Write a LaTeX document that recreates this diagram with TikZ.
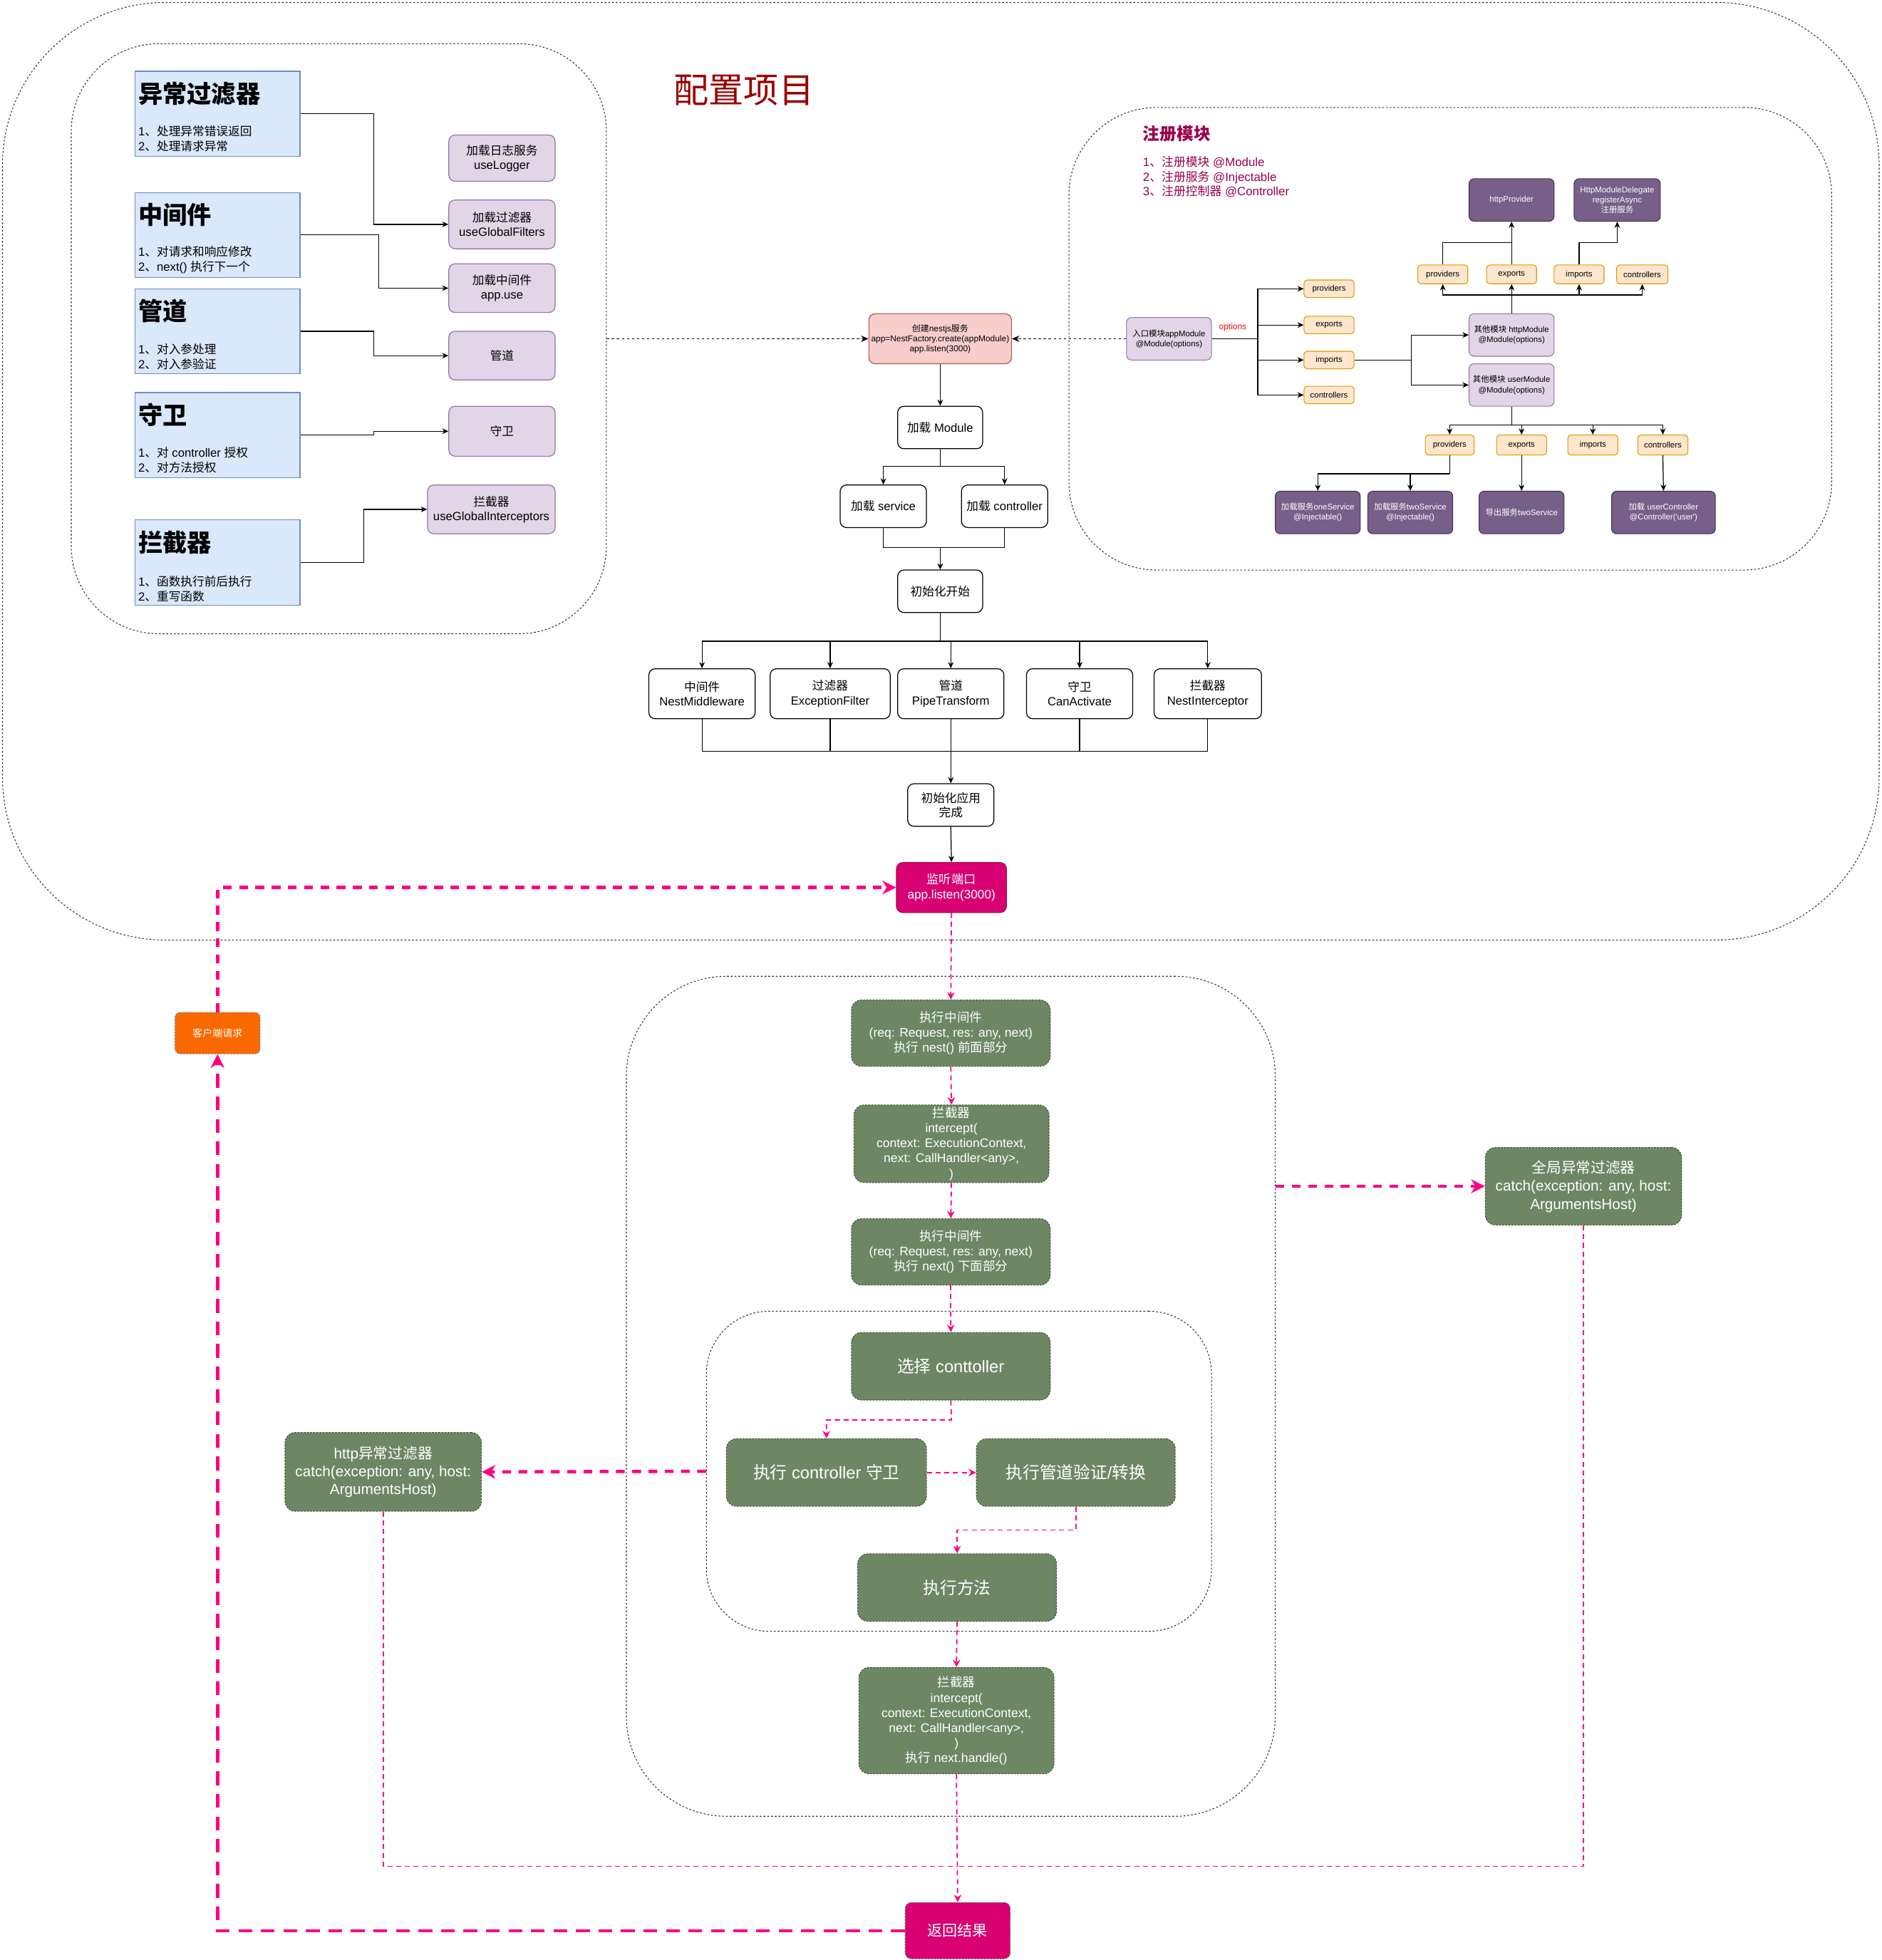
\documentclass[tikz,border=0pt]{standalone}
\usepackage{fontspec}
\setmainfont{Liberation Sans}
\newfontfamily\cjkfont{Noto Sans CJK SC}
\newfontfamily\latinfont{Liberation Sans}
\usetikzlibrary{arrows.meta}
\definecolor{blueF}{HTML}{DAE8FC}
\definecolor{blueD}{HTML}{6C8EBF}
\definecolor{purF}{HTML}{E1D5E7}
\definecolor{purD}{HTML}{9673A6}
\definecolor{redF}{HTML}{F8CECC}
\definecolor{redD}{HTML}{B85450}
\definecolor{orF}{HTML}{FFE6CC}
\definecolor{orD}{HTML}{D79B00}
\definecolor{dpF}{HTML}{76608A}
\definecolor{dpD}{HTML}{432D57}
\definecolor{grF}{HTML}{6D8764}
\definecolor{grD}{HTML}{3A5431}
\definecolor{magF}{HTML}{D80073}
\definecolor{magD}{HTML}{A50040}
\definecolor{pinkL}{HTML}{FF0080}
\definecolor{orangeF}{HTML}{FA6800}
\definecolor{titleRed}{HTML}{990000}
\definecolor{regCol}{HTML}{99004D}
\newXeTeXintercharclass\CJKcls
\makeatletter
\count@="3000
\loop\XeTeXcharclass\count@=\CJKcls\advance\count@ by 1\relax\ifnum\count@<"3040\repeat
\count@="4E00
\loop\XeTeXcharclass\count@=\CJKcls\advance\count@ by 1\relax\ifnum\count@<"A000\repeat
\count@="FF00
\loop\XeTeXcharclass\count@=\CJKcls\advance\count@ by 1\relax\ifnum\count@<"FFF0\repeat
\makeatother
\XeTeXinterchartoks 0 \CJKcls = {\cjkfont}
\XeTeXinterchartoks 4095 \CJKcls = {\cjkfont}
\XeTeXinterchartoks \CJKcls 0 = {\latinfont}
\XeTeXinterchartoks \CJKcls 4095 = {\latinfont}
\XeTeXinterchartokenstate=1
\newcommand\bx[7]{\node[#1, minimum width={(#5-#3)*1pt}, minimum height={(#6-#4)*1pt}] (#2) at ({(#3+#5)/2},{(#4+#6)/2}) {#7};}
\tikzset{
 conn/.style={draw=black, line width=0.7pt, -{Stealth[length=5pt,width=4.5pt]}},
 plain/.style={draw=black, line width=0.7pt},
 dotconn/.style={draw=black, line width=0.6pt, dash pattern=on 2pt off 2pt, -{Stealth[length=6pt,width=5pt]}},
 cont/.style={draw=black!80, line width=0.6pt, dash pattern=on 1.5pt off 1.5pt},
 bluebox/.style={draw=blueD, fill=blueF, line width=0.7pt},
 head/.style={anchor=west, inner sep=0pt, font=\fontsize{19.5}{22}\selectfont\bfseries},
 items/.style={anchor=west, inner sep=0pt, align=left, font=\fontsize{9.5}{12}\selectfont},
 purbox/.style={draw=purD, fill=purF, line width=0.7pt, rounded corners=5pt, align=center, inner sep=1pt, font=\fontsize{9.5}{11.5}\selectfont},
 purS/.style={draw=purD, fill=purF, line width=0.6pt, rounded corners=4pt, align=center, inner sep=1pt, font=\fontsize{6.5}{8}\selectfont},
 redbox/.style={draw=redD, fill=redF, line width=0.7pt, rounded corners=5pt, align=center, inner sep=1pt, font=\fontsize{6.8}{8}\selectfont},
 orbox/.style={draw=orD, fill=orF, line width=0.6pt, rounded corners=2.5pt, align=center, inner sep=0.5pt, font=\fontsize{6.5}{8}\selectfont},
 dpbox/.style={draw=dpD, fill=dpF, line width=0.6pt, rounded corners=4pt, align=center, inner sep=1pt, text=white, font=\fontsize{6.5}{8}\selectfont},
 wbox/.style={draw=black, fill=white, line width=0.7pt, rounded corners=5pt, align=center, inner sep=1pt, font=\fontsize{9.5}{11.5}\selectfont},
 grbox/.style={draw=grD, fill=grF, line width=0.6pt, dash pattern=on 1.5pt off 1pt, rounded corners=8pt, align=center, inner sep=1pt, text=white, font=\fontsize{10}{12}\selectfont},
 grbig/.style={grbox, font=\fontsize{13.5}{16}\selectfont},
 grfilter/.style={grbox, font=\fontsize{11.8}{14.5}\selectfont},
 magbox/.style={draw=magD, fill=magF, line width=0.6pt, rounded corners=5pt, align=center, inner sep=1pt, text=white, font=\fontsize{9.8}{12}\selectfont},
 retbox/.style={draw=black!60, fill=magF, line width=0.6pt, dash pattern=on 1.5pt off 1pt, rounded corners=5pt, align=center, inner sep=1pt, text=white, font=\fontsize{12}{14}\selectfont},
 clientbox/.style={draw=black!50, fill=orangeF, line width=0.6pt, dash pattern=on 1.5pt off 1pt, rounded corners=4pt, align=center, inner sep=1pt, text=white, font=\fontsize{8}{10}\selectfont},
 pk/.style={draw=pinkL, line width=1pt, dash pattern=on 4pt off 3pt, -{Stealth[length=6pt,width=6pt,inset=2pt]}},
 pkline/.style={draw=pinkL, line width=1pt, dash pattern=on 4pt off 3pt},
 pkthick/.style={draw=pinkL, line width=2.6pt, dash pattern=on 7pt off 6pt, -{Stealth[length=11pt,width=11pt,inset=3.5pt]}},
 pklong/.style={draw=pinkL, line width=2.6pt, dash pattern=on 11pt off 7pt, -{Stealth[length=11pt,width=11pt,inset=3.5pt]}},
}
\begin{document}
\begin{tikzpicture}[x=1pt,y=-1pt]
\useasboundingbox (0,0) rectangle (1505,1568);
% containers
\bx{cont, rounded corners=130pt}{outerC}{2}{2}{1503}{752}{}
\bx{cont, rounded corners=70pt}{leftC}{57}{35}{485}{507}{}
\bx{cont, rounded corners=70pt}{regC}{855}{86}{1465}{456}{}
\bx{cont, rounded corners=80pt}{lowC}{501}{781}{1020}{1453}{}
\bx{cont, rounded corners=50pt}{innC}{565}{1049}{969}{1305}{}
% title
\node[text=titleRed, font=\fontsize{28}{32}\selectfont] (title) at (595,72) {配置项目};
% left blue boxes
\bx{bluebox}{b1}{108}{57}{240}{125}{}
\node[head] (b1h) at (110.5,75) {异常过滤器};
\node[items] (b1i) at (110.5,111) {1、处理异常错误返回\\2、处理请求异常};
\bx{bluebox}{b2}{108}{154}{240}{222}{}
\node[head] (b2h) at (110.5,172) {中间件};
\node[items] (b2i) at (110.5,208) {1、对请求和响应修改\\2、next() 执行下一个};
\bx{bluebox}{b3}{108}{231}{240}{299}{}
\node[head] (b3h) at (110.5,249) {管道};
\node[items] (b3i) at (110.5,285.5) {1、对入参处理\\2、对入参验证};
\bx{bluebox}{b4}{108}{314}{240}{382}{}
\node[head] (b4h) at (110.5,332) {守卫};
\node[items] (b4i) at (110.5,368) {1、对 controller 授权\\2、对方法授权};
\bx{bluebox}{b5}{108}{416}{240}{484}{}
\node[head] (b5h) at (110.5,434) {拦截器};
\node[items] (b5i) at (110.5,471) {1、函数执行前后执行\\2、重写函数};
% purple boxes
\bx{purbox}{p1}{359}{108}{444}{145}{加载日志服务\\useLogger}
\bx{purbox}{p2}{359}{160}{444}{199}{加载过滤器\\useGlobalFilters}
\bx{purbox}{p3}{359}{211}{444}{250}{加载中间件\\app.use}
\bx{purbox}{p4}{359}{265}{444}{304}{管道}
\bx{purbox}{p5}{359}{325}{444}{365}{守卫}
\bx{purbox}{p6}{342}{388}{444}{427}{拦截器\\useGlobalInterceptors}
\coordinate (c1) at (299,91);
\coordinate (c2) at (303,188);
\coordinate (c3) at (299,265);
\coordinate (c4) at (299,348);
\coordinate (c5) at (291,450);
\draw[conn] (b1.east) -- (c1) |- (p2.west);
\draw[conn] (b2.east) -- (c2) |- (p3.west);
\draw[conn] (b3.east) -- (c3) |- (p4.west);
\draw[conn] (b4.east) -- (c4) |- (p5.west);
\draw[conn] (b5.east) -- (c5) |- (p6.west);
% middle column
\bx{redbox}{create}{695}{251}{809}{291}{创建nestjs服务\\app=NestFactory.create(appModule)\\app.listen(3000)}
\draw[dotconn] (leftC.east) -- (create.west);
\bx{wbox}{loadMod}{718}{325}{786}{359}{加载 Module}
\bx{wbox}{loadSvc}{672}{388}{741}{422}{加载 service}
\bx{wbox}{loadCtl}{769}{388}{838}{422}{加载 controller}
\bx{wbox}{initStart}{718}{456}{786}{490}{初始化开始}
\draw[conn] (create.south) -- (loadMod.north);
\coordinate (j1) at (752,373);
\draw[conn] (loadMod.south) -- (j1) -| (loadSvc.north);
\draw[conn] (j1) -| (loadCtl.north);
\coordinate (j2) at (752,438);
\draw[plain] (loadSvc.south) |- (j2);
\draw[plain] (loadCtl.south) |- (j2);
\draw[conn] (j2) -- (initStart.north);
\bx{wbox}{f1}{519}{535}{604}{575}{中间件\\NestMiddleware}
\bx{wbox}{f2}{616}{535}{712}{575}{过滤器\\ExceptionFilter}
\bx{wbox}{f3}{718}{535}{803}{575}{管道\\PipeTransform}
\bx{wbox}{f4}{821}{535}{906}{575}{守卫\\CanActivate}
\bx{wbox}{f5}{923}{535}{1009}{575}{拦截器\\NestInterceptor}
\coordinate (j3) at (752,513);
\draw[plain] (initStart.south) -- (j3);
\draw[conn] (j3) -| (f1.north);
\draw[conn] (j3) -| (f2.north);
\draw[conn] (j3) -| (f3.north);
\draw[conn] (j3) -| (f4.north);
\draw[conn] (j3) -| (f5.north);
\bx{wbox}{initDone}{726}{627}{795}{661}{初始化应用\\完成}
\coordinate (j4) at (760.5,601);
\draw[plain] (f1.south) |- (j4);
\draw[plain] (f2.south) |- (j4);
\draw[plain] (f4.south) |- (j4);
\draw[plain] (f5.south) |- (j4);
\draw[conn] (f3.south) -- (initDone.north);
\bx{magbox}{listen}{717}{690}{805}{730}{监听端口\\app.listen(3000)}
\draw[conn] (initDone.south) -- (listen.north);
% register module
\node[anchor=west, inner sep=0pt, text=regCol, font=\fontsize{13.5}{16}\selectfont\bfseries] (regT) at (914,107) {注册模块};
\node[anchor=north west, inner sep=0pt, align=left, text=regCol, font=\fontsize{9.6}{11.5}\selectfont] (regI) at (914,125) {1、注册模块 @Module\\2、注册服务 @Injectable\\3、注册控制器 @Controller};
\bx{purS}{entry}{901}{254}{969}{288}{入口模块appModule\\@Module(options)}
\draw[dotconn] (entry.west) -- (create.east);
\node[text=red, inner sep=0pt, font=\fontsize{6.8}{8}\selectfont] (opt) at (986,262) {options};
\bx{orbox}{o1}{1043}{224}{1083}{238}{providers}
\bx{orbox}{o2}{1043}{253}{1083}{267}{exports}
\bx{orbox}{o3}{1043}{281}{1083}{295}{imports}
\bx{orbox}{o4}{1043}{309}{1083}{323}{controllers}
\coordinate (rb) at (1006,271);
\draw[plain] (entry.east) -- (rb);
\draw[conn] (rb) |- (o1.west);
\draw[conn] (rb) |- (o2.west);
\draw[conn] (rb) |- (o3.west);
\draw[conn] (rb) |- (o4.west);
\bx{purS}{httpM}{1175}{251}{1243}{285}{其他模块 httpModule\\@Module(options)}
\bx{purS}{userM}{1175}{291}{1243}{325}{其他模块 userModule\\@Module(options)}
\coordinate (ib) at (1129,288);
\draw[plain] (o3.east) -- (ib);
\draw[conn] (ib) |- (httpM.west);
\draw[conn] (ib) |- (userM.west);
\bx{orbox}{t1}{1134}{212}{1174}{227}{providers}
\bx{orbox}{t2}{1189}{212}{1229}{227}{exports}
\bx{orbox}{t3}{1243}{212}{1283}{227}{imports}
\bx{orbox}{t4}{1293}{212}{1334}{227}{controllers}
\coordinate (tb) at (1209,236);
\draw[plain] (httpM.north) -- (tb);
\draw[conn] (tb) -| (t1.south);
\draw[conn] (tb) -- (t2.south);
\draw[conn] (tb) -| (t3.south);
\draw[conn] (tb) -| (t4.south);
\bx{dpbox}{hp}{1175}{143}{1243}{177}{httpProvider}
\bx{dpbox}{hd}{1259}{143}{1328}{177}{HttpModuleDelegate\\registerAsync\\注册服务}
\coordinate (hpj) at (1209,194);
\coordinate (hdj) at (1263,194);
\draw[plain] (t1.north) |- (hpj);
\draw[conn] (t2.north) -- (hp.south);
\draw[conn] (t3.north) -- (hdj) -| (hd.south);
\bx{orbox}{u1}{1140}{348}{1179}{364}{providers}
\bx{orbox}{u2}{1197}{348}{1237}{364}{exports}
\bx{orbox}{u3}{1254}{348}{1294}{364}{imports}
\bx{orbox}{u4}{1310}{348}{1350}{364}{controllers}
\coordinate (ub) at (1209,340);
\draw[plain] (userM.south) -- (ub);
\draw[conn] (ub) -| (u1.north);
\draw[conn] (ub) -| (u2.north);
\draw[conn] (ub) -| (u3.north);
\draw[conn] (ub) -| (u4.north);
\bx{dpbox}{d1}{1020}{393}{1088}{427}{加载服务oneService\\@Injectable()}
\bx{dpbox}{d2}{1094}{393}{1162}{427}{加载服务twoService\\@Injectable()}
\bx{dpbox}{d3}{1183}{393}{1251}{427}{导出服务twoService}
\bx{dpbox}{d4}{1289}{393}{1372}{427}{加载 userController\\@Controller(\textquotesingle user\textquotesingle)}
\coordinate (pj) at (1159.5,379);
\draw[plain] (u1.south) -- (pj);
\draw[conn] (pj) -| (d1.north);
\draw[conn] (pj) -| (d2.north);
\draw[conn] (u2.south) -- (d3.north);
\draw[conn] (u4.south) -- (d4.north);
% lower part
\bx{clientbox}{client}{140}{810}{208}{843}{客户端请求}
\bx{grbox}{mw1}{681}{800}{840}{853}{执行中间件\\(req: Request, res: any, next)\\执行 nest() 前面部分}
\bx{grbox}{ic1}{683}{884}{839}{946}{拦截器\\intercept(\\context: ExecutionContext,\\next: CallHandler<any>,\\)}
\bx{grbox}{mw2}{681}{975}{840}{1028}{执行中间件\\(req: Request, res: any, next)\\执行 next() 下面部分}
\bx{grbig}{sel}{681}{1066}{840}{1120}{选择 conttoller}
\bx{grbig}{guard}{581}{1151}{741}{1205}{执行 controller 守卫}
\bx{grbig}{pipe}{781}{1151}{940}{1205}{执行管道验证/转换}
\bx{grbig}{meth}{686}{1243}{845}{1297}{执行方法}
\bx{grbox}{ic2}{687}{1334}{843}{1419}{拦截器\\intercept(\\context: ExecutionContext,\\next: CallHandler<any>,\\)\\执行 next.handle()}
\bx{retbox}{ret}{724}{1522}{808}{1567}{返回结果}
\bx{grfilter}{hf}{228}{1146}{385}{1209}{http异常过滤器\\catch(exception: any, host:\\ArgumentsHost)}
\bx{grfilter}{gf}{1188}{918}{1345}{980}{全局异常过滤器\\catch(exception: any, host:\\ArgumentsHost)}
\draw[pk] (listen.south) -- (mw1.north);
\draw[pk] (mw1.south) -- (ic1.north);
\draw[pk] (ic1.south) -- (mw2.north);
\draw[pk] (mw2.south) -- (sel.north);
\coordinate (sj) at (761,1136);
\draw[pk] (sel.south) -- (sj) -| (guard.north);
\draw[pk] (guard.east) -- (pipe.west);
\coordinate (pj2) at (860.5,1224);
\draw[pk] (pipe.south) -- (pj2) -| (meth.north);
\draw[pk] (meth.south) -- (ic2.north);
\draw[pk] (ic2.south) -- (ret.north);
\coordinate (fj) at (765,1493);
\draw[pkline] (hf.south) |- (fj);
\draw[pkline] (gf.south) |- (fj);
\draw[pkthick] (innC.west) -- (hf.east);
\draw[pkthick] (lowC.east |- gf.west) -- (gf.west);
\draw[pkthick] (client.north) |- (listen.west);
\draw[pklong] (ret.west) -| (client.south);
\end{tikzpicture}
\end{document}
